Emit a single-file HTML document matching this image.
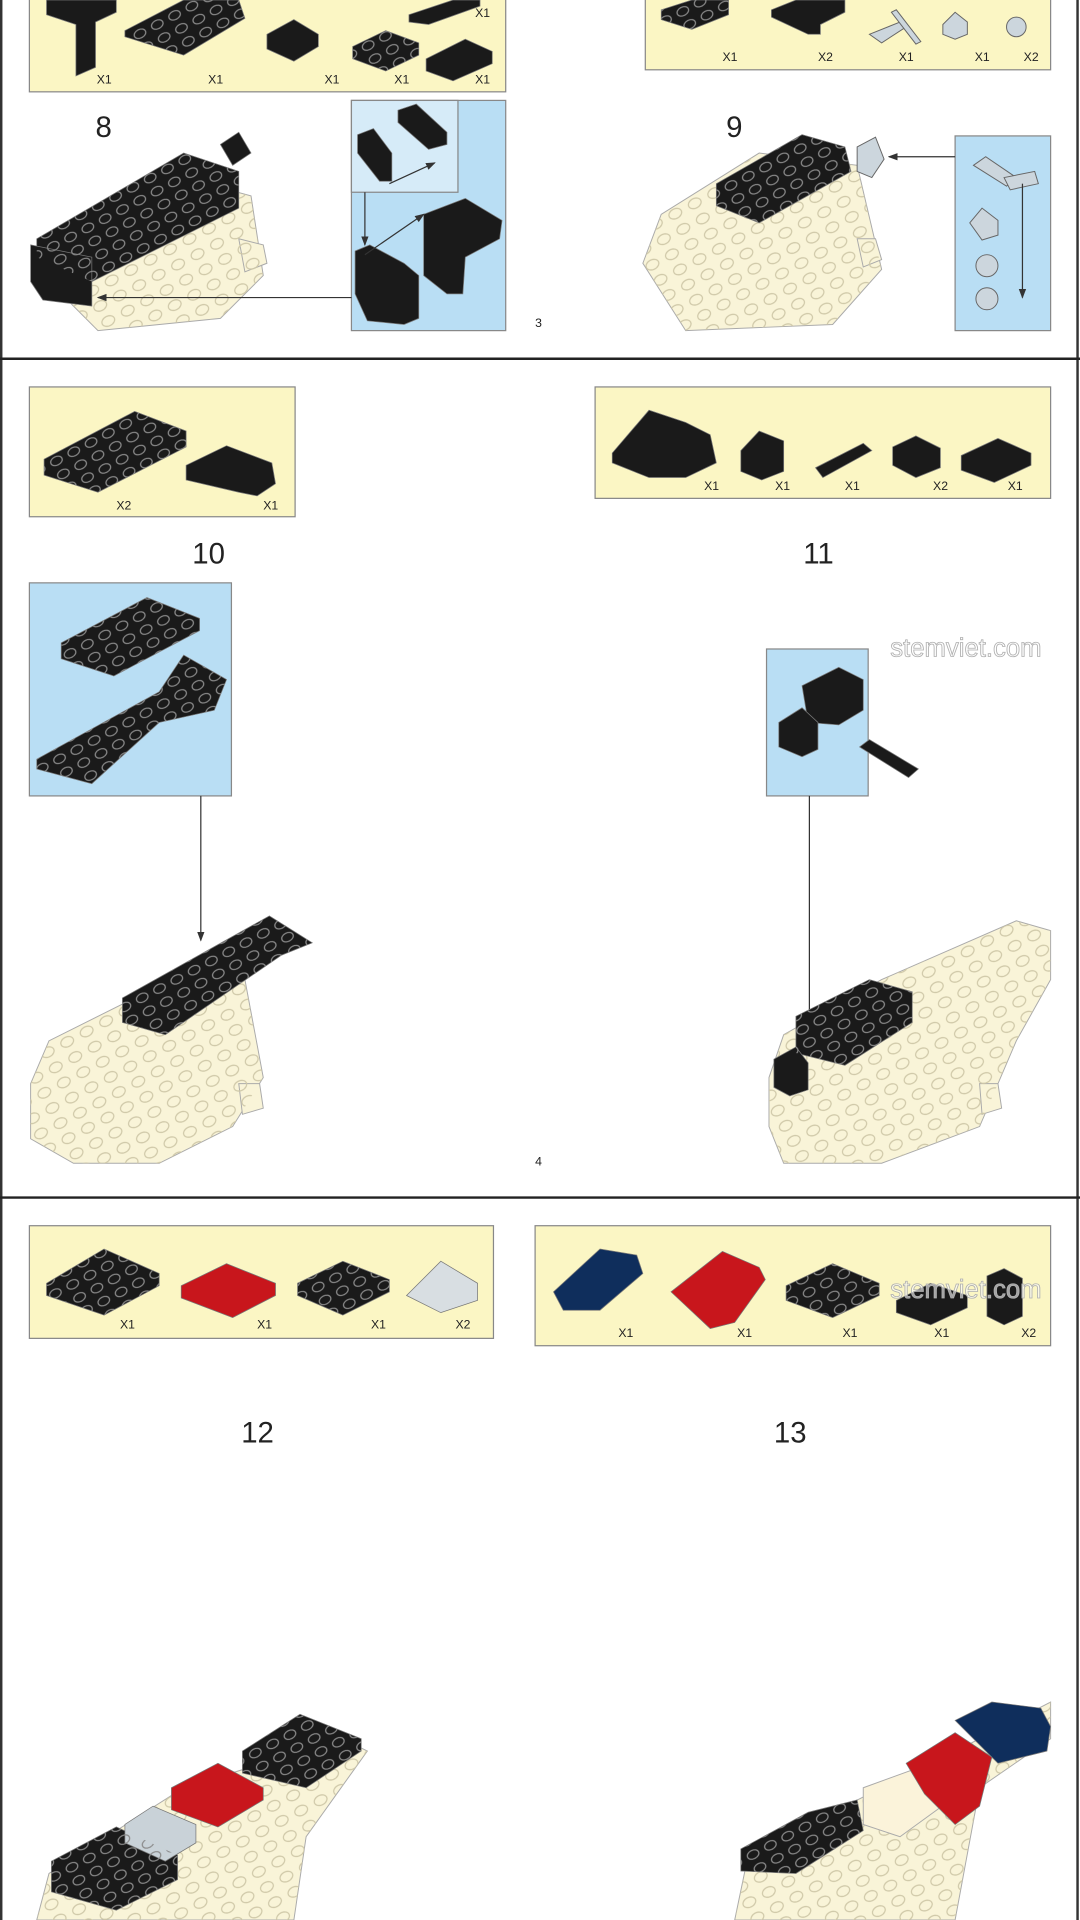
<!DOCTYPE html>
<html><head><meta charset="utf-8"><style>
html,body{margin:0;padding:0;background:#fff;}
svg{display:block}
text{font-family:"Liberation Sans",sans-serif;}
</style></head><body>
<svg width="1080" height="1920" viewBox="0 0 882 1568" preserveAspectRatio="none" xmlns="http://www.w3.org/2000/svg">
<defs>
<marker id="ah" markerWidth="8" markerHeight="8" refX="7" refY="4" orient="auto"><path d="M0,1 L8,4 L0,7 Z" fill="#333"/></marker>
<pattern id="studs" width="16" height="12" patternUnits="userSpaceOnUse" patternTransform="rotate(-28)">
<ellipse cx="8" cy="6" rx="5" ry="3.5" fill="none" stroke="#8a8a8a" stroke-width="1"/>
</pattern>
<pattern id="bstuds" width="18" height="14" patternUnits="userSpaceOnUse" patternTransform="rotate(-28)">
<ellipse cx="9" cy="7" rx="5.5" ry="4" fill="none" stroke="#cfc8a8" stroke-width="1"/>
</pattern>
</defs>
<rect x="0" y="0" width="882" height="1568" fill="#fff"/>
<line x1="1" y1="0" x2="1" y2="1568" stroke="#333" stroke-width="2"/>
<line x1="880" y1="0" x2="880" y2="1568" stroke="#333" stroke-width="2"/>
<line x1="0" y1="293" x2="882" y2="293" stroke="#222" stroke-width="2"/>
<line x1="0" y1="978" x2="882" y2="978" stroke="#222" stroke-width="2"/>

<!-- ===== Section 1 ===== -->
<rect x="24" y="-2" width="389" height="77" fill="#fbf6c4" stroke="#888"/>
<rect x="527" y="-2" width="331" height="59" fill="#fbf6c4" stroke="#888"/>
<g fill="#1a1a1a" stroke="#777" stroke-width="0.6">
<polygon points="38,0 95,0 95,10 78,18 78,55 62,62 62,20 38,12"/>
<polygon points="102,25 150,0 195,0 200,15 150,45 102,30"/>
<polygon points="218,28 240,16 260,28 260,38 240,50 218,40"/>
<polygon points="288,38 315,25 342,35 342,45 315,58 288,48"/>
<polygon points="348,48 380,32 402,42 402,52 370,66 348,58"/>
<polygon points="334,12 370,0 392,0 392,5 350,20 334,18"/>
<polygon points="540,8 565,0 595,0 595,12 565,24 540,16"/>
<polygon points="630,8 650,0 690,0 690,10 670,20 670,28 660,28 630,14"/>
</g>
<g fill="url(#studs)">
<polygon points="102,25 150,0 195,0 200,15 150,45 102,30"/>
<polygon points="540,8 565,0 595,0 595,12 565,24 540,16"/>
<polygon points="288,38 315,25 342,35 342,45 315,58 288,48"/>
</g>
<g fill="#ccd6dd" stroke="#666" stroke-width="0.8">
<polygon points="710,28 735,18 740,22 720,35"/>
<polygon points="728,10 732,8 752,34 748,36"/>
<polygon points="770,20 780,10 790,18 790,28 780,32 770,28"/>
<circle cx="830" cy="22" r="8"/>
</g>
<g font-size="10" fill="#222">
<text x="79" y="68">X1</text><text x="170" y="68">X1</text><text x="265" y="68">X1</text><text x="322" y="68">X1</text><text x="388" y="68">X1</text><text x="388" y="14">X1</text>
<text x="590" y="50">X1</text><text x="668" y="50">X2</text><text x="734" y="50">X1</text><text x="796" y="50">X1</text><text x="836" y="50">X2</text>
</g>
<text x="78" y="112" font-size="24" fill="#222">8</text>
<text x="593" y="112" font-size="24" fill="#222">9</text>
<!-- model 8 -->
<g stroke="#aaa" stroke-width="0.8" fill="#f9f4d8">
<polygon points="50,240 60,200 150,145 205,160 215,225 180,260 80,270"/>
<polygon points="195,195 215,200 218,215 200,222"/>
</g>
<polygon points="50,240 60,200 150,145 205,160 215,225 180,260 80,270" fill="url(#bstuds)"/>
<g fill="#1a1a1a" stroke="#777" stroke-width="0.6">
<polygon points="30,195 150,125 195,140 195,170 75,230 30,210"/>
<polygon points="25,200 75,210 75,250 35,245 25,230"/>
<polygon points="180,118 195,108 205,125 190,135"/>
</g>
<polygon points="30,195 150,125 195,140 195,170 75,230 30,210" fill="url(#studs)"/>
<rect x="287" y="82" width="126" height="188" fill="#b9def4" stroke="#888"/>
<rect x="287" y="82" width="87" height="75" fill="#d6ebf8" stroke="#888"/>
<g fill="#1a1a1a" stroke="#777" stroke-width="0.6">
<polygon points="325,90 340,85 365,108 365,118 350,122 325,100"/>
<polygon points="292,110 305,105 320,125 320,148 310,148 292,125"/>
<polygon points="346,175 380,162 410,180 408,195 380,210 378,240 365,240 346,225"/>
<polygon points="290,205 302,200 330,215 342,225 342,260 330,265 300,262 290,240"/>
</g>
<line x1="298" y1="157" x2="298" y2="200" stroke="#333" marker-end="url(#ah)"/>
<line x1="318" y1="150" x2="355" y2="133" stroke="#333" marker-end="url(#ah)"/>
<line x1="298" y1="208" x2="346" y2="175" stroke="#333" marker-end="url(#ah)"/>
<line x1="287" y1="243" x2="80" y2="243" stroke="#333" marker-end="url(#ah)"/>
<text x="437" y="267" font-size="10" fill="#222">3</text>
<!-- model 9 -->
<g stroke="#aaa" stroke-width="0.8" fill="#f9f4d8">
<polygon points="525,215 540,175 620,125 700,135 720,220 680,265 560,270"/>
<polygon points="700,195 715,195 720,212 705,218"/>
</g>
<polygon points="525,215 540,175 620,125 700,135 720,220 680,265 560,270" fill="url(#bstuds)"/>
<g fill="#1a1a1a" stroke="#777" stroke-width="0.6">
<polygon points="585,150 655,110 690,120 695,140 620,182 585,168"/>
</g>
<polygon points="585,150 655,110 690,120 695,140 620,182 585,168" fill="url(#studs)"/>
<g fill="#ccd6dd" stroke="#666" stroke-width="0.8"><polygon points="700,120 715,112 722,130 712,145 700,140"/></g>
<rect x="780" y="111" width="78" height="159" fill="#b9def4" stroke="#888"/>
<g fill="#ccd6dd" stroke="#666" stroke-width="0.8">
<polygon points="795,135 805,128 830,145 822,152"/><polygon points="820,145 845,140 848,150 825,155"/>
<polygon points="792,182 802,170 815,180 815,192 802,196"/>
<circle cx="806" cy="217" r="9"/><circle cx="806" cy="244" r="9"/>
</g>
<line x1="835" y1="150" x2="835" y2="243" stroke="#333" marker-end="url(#ah)"/>
<line x1="780" y1="128" x2="726" y2="128" stroke="#333" marker-end="url(#ah)"/>

<!-- ===== Section 2 ===== -->
<rect x="24" y="316" width="217" height="106" fill="#fbf6c4" stroke="#888"/>
<rect x="486" y="316" width="372" height="91" fill="#fbf6c4" stroke="#888"/>
<g fill="#1a1a1a" stroke="#777" stroke-width="0.6">
<polygon points="36,375 110,336 152,352 152,365 80,402 36,388"/>
<polygon points="152,380 185,364 222,378 225,395 210,405 195,402 152,392"/>
<polygon points="500,370 530,335 560,345 580,355 585,378 560,390 530,390 500,378"/>
<polygon points="605,368 620,352 640,360 640,385 622,392 605,385"/>
<polygon points="666,382 705,362 712,368 672,390"/>
<polygon points="729,365 748,356 768,366 768,382 748,390 729,380"/>
<polygon points="785,372 815,358 842,370 842,380 812,394 785,384"/>
</g>
<polygon points="36,375 110,336 152,352 152,365 80,402 36,388" fill="url(#studs)"/>
<g font-size="10" fill="#222">
<text x="95" y="416">X2</text><text x="215" y="416">X1</text>
<text x="575" y="400">X1</text><text x="633" y="400">X1</text><text x="690" y="400">X1</text><text x="762" y="400">X2</text><text x="823" y="400">X1</text>
</g>
<text x="157" y="460" font-size="24" fill="#222">10</text>
<text x="656" y="460" font-size="24" fill="#222">11</text>
<rect x="24" y="476" width="165" height="174" fill="#b9def4" stroke="#888"/>
<g fill="#1a1a1a" stroke="#777" stroke-width="0.6">
<polygon points="50,525 120,488 163,505 163,515 93,552 50,538"/>
<polygon points="30,620 130,565 150,535 185,555 175,580 130,590 75,640 30,628"/>
</g>
<polygon points="50,525 120,488 163,505 163,515 93,552 50,538" fill="url(#studs)"/>
<polygon points="30,620 130,565 150,535 185,555 175,580 130,590 75,640 30,628" fill="url(#studs)"/>
<line x1="164" y1="650" x2="164" y2="768" stroke="#333" marker-end="url(#ah)"/>
<rect x="626" y="530" width="83" height="120" fill="#b9def4" stroke="#888"/>
<g fill="#1a1a1a" stroke="#777" stroke-width="0.6">
<polygon points="655,560 685,545 705,555 705,580 685,592 660,590"/>
<polygon points="636,590 655,578 668,590 668,612 655,618 636,610"/>
<polygon points="702,610 710,604 750,628 742,635"/>
</g>
<line x1="661" y1="650" x2="661" y2="843" stroke="#333" marker-end="url(#ah)"/>
<text x="727" y="536" font-size="21" fill="#fff" stroke="#b0b0b0" stroke-width="0.7">stemviet.com</text>
<!-- model 10 -->
<g stroke="#aaa" stroke-width="0.8" fill="#f9f4d8">
<polygon points="25,885 40,850 110,815 200,800 215,880 190,920 130,950 60,950 25,930"/>
<polygon points="195,885 212,885 215,905 198,910"/>
</g>
<polygon points="25,885 40,850 110,815 200,800 215,880 190,920 130,950 60,950 25,930" fill="url(#bstuds)"/>
<g fill="#1a1a1a" stroke="#777" stroke-width="0.6">
<polygon points="100,815 220,748 255,770 230,780 135,845 100,835"/>
</g>
<polygon points="100,815 220,748 255,770 230,780 135,845 100,835" fill="url(#studs)"/>
<text x="437" y="952" font-size="10" fill="#222">4</text>
<!-- model 11 -->
<g stroke="#aaa" stroke-width="0.8" fill="#f9f4d8">
<polygon points="628,880 640,845 720,800 830,752 858,760 858,800 830,850 800,920 720,950 640,950 628,920"/>
<polygon points="800,885 815,885 818,905 802,910"/>
</g>
<polygon points="628,880 640,845 720,800 830,752 858,760 858,800 830,850 800,920 720,950 640,950 628,920" fill="url(#bstuds)"/>
<g fill="#1a1a1a" stroke="#777" stroke-width="0.6">
<polygon points="650,830 710,800 745,810 745,835 690,870 650,860"/>
<polygon points="632,865 650,855 660,868 660,890 645,895 632,888"/>
</g>
<polygon points="650,830 710,800 745,810 745,835 690,870 650,860" fill="url(#studs)"/>

<!-- ===== Section 3 ===== -->
<rect x="24" y="1001" width="379" height="92" fill="#fbf6c4" stroke="#888"/>
<rect x="437" y="1001" width="421" height="98" fill="#fbf6c4" stroke="#888"/>
<g stroke="#777" stroke-width="0.6">
<polygon points="38,1048 85,1020 130,1040 130,1050 85,1074 38,1058" fill="#1a1a1a"/>
<polygon points="148,1050 185,1032 225,1048 225,1058 190,1076 148,1060" fill="#c8161c"/>
<polygon points="243,1048 280,1030 318,1045 318,1055 280,1074 243,1058" fill="#1a1a1a"/>
<polygon points="332,1058 360,1030 390,1048 390,1062 360,1072" fill="#d8dee2"/>
<polygon points="452,1055 490,1020 520,1025 525,1040 490,1070 460,1070" fill="#0f2e5c"/>
<polygon points="548,1055 590,1022 620,1035 625,1045 600,1080 580,1085" fill="#c8161c"/>
<polygon points="642,1050 680,1032 718,1048 718,1058 680,1076 642,1062" fill="#1a1a1a"/>
<polygon points="732,1062 760,1048 790,1058 790,1068 760,1082 732,1072" fill="#1a1a1a"/>
<polygon points="806,1042 820,1036 835,1044 835,1075 820,1082 806,1075" fill="#1a1a1a"/>
</g>
<g fill="url(#studs)">
<polygon points="38,1048 85,1020 130,1040 130,1050 85,1074 38,1058"/>
<polygon points="243,1048 280,1030 318,1045 318,1055 280,1074 243,1058"/>
<polygon points="642,1050 680,1032 718,1048 718,1058 680,1076 642,1062"/>
</g>
<g font-size="10" fill="#222">
<text x="98" y="1085">X1</text><text x="210" y="1085">X1</text><text x="303" y="1085">X1</text><text x="372" y="1085">X2</text>
<text x="505" y="1092">X1</text><text x="602" y="1092">X1</text><text x="688" y="1092">X1</text><text x="763" y="1092">X1</text><text x="834" y="1092">X2</text>
</g>
<text x="727" y="1060" font-size="21" fill="#fff" fill-opacity="0.6" stroke="#b0b0b0" stroke-width="0.7">stemviet.com</text>
<text x="197" y="1178" font-size="24" fill="#222">12</text>
<text x="632" y="1178" font-size="24" fill="#222">13</text>
<!-- model 12 -->
<g stroke="#aaa" stroke-width="0.8" fill="#f9f4d8">
<polygon points="30,1568 40,1530 150,1460 280,1420 300,1430 250,1500 240,1568"/>
</g>
<polygon points="30,1568 40,1530 150,1460 280,1420 300,1430 250,1500 240,1568" fill="url(#bstuds)"/>
<g stroke="#777" stroke-width="0.6">
<polygon points="42,1520 95,1492 145,1515 145,1535 95,1560 42,1545" fill="#1a1a1a"/>
<polygon points="198,1430 245,1400 295,1420 295,1430 250,1460 198,1448" fill="#1a1a1a"/>
<polygon points="140,1460 178,1440 215,1460 215,1470 178,1492 140,1478" fill="#c8161c"/>
<polygon points="102,1490 125,1475 160,1490 160,1505 135,1520 102,1505" fill="#c9d2d8"/>
</g>
<polygon points="42,1520 95,1492 145,1515 145,1535 95,1560 42,1545" fill="url(#studs)"/>
<polygon points="198,1430 245,1400 295,1420 295,1430 250,1460 198,1448" fill="url(#studs)"/>
<!-- model 13 -->
<g stroke="#aaa" stroke-width="0.8" fill="#f9f4d8">
<polygon points="600,1568 610,1520 700,1470 800,1420 858,1390 858,1420 800,1460 780,1568"/>
</g>
<polygon points="600,1568 610,1520 700,1470 800,1420 858,1390 858,1420 800,1460 780,1568" fill="url(#bstuds)"/>
<polygon points="705,1460 760,1440 790,1460 735,1500 705,1490" fill="#fbf3da" stroke="#aaa" stroke-width="0.8"/>
<g stroke="#777" stroke-width="0.6">
<polygon points="605,1510 660,1480 700,1470 705,1495 650,1530 605,1528" fill="#1a1a1a"/>
<polygon points="740,1440 780,1415 810,1435 800,1475 780,1490 755,1465" fill="#c8161c"/>
<polygon points="780,1405 810,1390 850,1395 858,1410 855,1430 815,1440" fill="#0f2e5c"/>
</g>
<polygon points="605,1510 660,1480 700,1470 705,1495 650,1530 605,1528" fill="url(#studs)"/>
</svg>
</body></html>
